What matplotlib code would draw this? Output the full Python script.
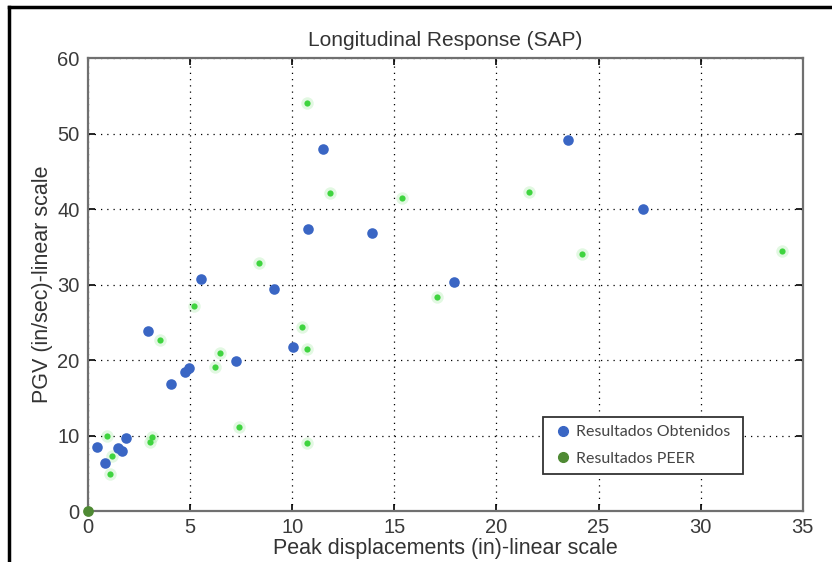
import matplotlib
matplotlib.use('Agg')
import matplotlib.pyplot as plt
from matplotlib.lines import Line2D

# --- data ---
obt_x = [0.44, 0.83, 1.47, 1.66, 1.86, 2.94, 4.06, 4.75, 4.94, 5.53,
         7.24, 9.1, 10.03, 10.77, 11.5, 13.9, 17.9, 23.5, 27.2]
obt_y = [8.5, 6.3, 8.3, 7.9, 9.7, 23.9, 16.8, 18.4, 18.9, 30.7,
         19.9, 29.4, 21.7, 37.4, 48.0, 36.8, 30.3, 49.2, 40.0]

peer_x = [10.72, 11.85, 15.37, 21.6, 24.2, 34.0, 8.37, 5.19, 3.52, 10.47,
          10.72, 6.46, 6.22, 7.39, 0.93, 3.13, 3.03, 1.17, 1.08, 10.72, 17.1]
peer_y = [54.1, 42.1, 41.4, 42.2, 34.1, 34.5, 32.8, 27.1, 22.6, 24.4,
          21.4, 20.9, 19.1, 11.1, 9.9, 9.8, 9.1, 7.3, 4.9, 9.0, 28.3]

origin_x = [0]
origin_y = [0]

blue = '#3a66c4'
green = '#3fd43f'
dark_green = '#4f8a34'

fig = plt.figure(figsize=(8.32, 5.62), dpi=100)
ax = fig.add_axes([0.1058, 0.0907, 0.859, 0.806])

# soft halo + core for the green points
ax.scatter(peer_x, peer_y, s=80, color=green, alpha=0.15, linewidths=0, zorder=3)
ax.scatter(peer_x, peer_y, s=20, color=green, linewidths=0, zorder=4)
ax.scatter(obt_x, obt_y, s=58, color=blue, linewidths=0, zorder=5)
ax.scatter(origin_x, origin_y, s=60, color=dark_green, linewidths=0, zorder=6, clip_on=False)

ax.set_xlim(0, 35)
ax.set_ylim(0, 60)
ax.set_xticks(range(0, 36, 5))
ax.set_yticks(range(0, 61, 10))
ax.grid(True, color='black', linestyle=(0, (1, 4)), linewidth=0.9)
ax.tick_params(direction='in', top=True, right=True, length=5, width=1.2,
               color='black', labelsize=14.5, labelcolor='#3a3a3a')
ax.tick_params(axis='x', pad=5)
ax.tick_params(axis='y', pad=6)
for sp in ax.spines.values():
    sp.set_color('#707070')
    sp.set_linewidth(1.6)

font = 'Liberation Sans'
for lab in ax.get_xticklabels() + ax.get_yticklabels():
    lab.set_family(font)

ax.set_title('Longitudinal Response (SAP)', fontsize=15, family=font, color='#333333', pad=9)
ax.set_xlabel('Peak displacements (in)-linear scale', fontsize=15.5, family=font,
              color='#333333', labelpad=1)
ax.set_ylabel('PGV (in/sec)-linear scale', fontsize=15.5, family=font,
              color='#333333', labelpad=3)

handles = [
    Line2D([], [], marker='o', linestyle='', color=blue, markersize=7,
           label='Resultados Obtenidos'),
    Line2D([], [], marker='o', linestyle='', color=dark_green, markersize=7,
           label='Resultados PEER'),
]
leg = ax.legend(handles=handles, loc='lower left',
                bbox_to_anchor=(0.625, 0.064, 0.303, 0.146), mode='expand',
                fancybox=False, edgecolor='#333333', framealpha=1,
                prop={'family': 'Lato', 'size': 11.5}, handletextpad=0.1,
                handlelength=1.5, labelspacing=0.8, borderpad=0.5)
leg.get_frame().set_linewidth(1.3)
for t in leg.get_texts():
    t.set_color('#444444')

# black frame lines on left and top of the image
fig.add_artist(Line2D([0.011, 0.011], [0, 0.988], transform=fig.transFigure,
                      color='black', linewidth=2.5))
fig.add_artist(Line2D([0.011, 1], [0.988, 0.988], transform=fig.transFigure,
                      color='black', linewidth=2.5))

fig.savefig('out.png', dpi=100)
